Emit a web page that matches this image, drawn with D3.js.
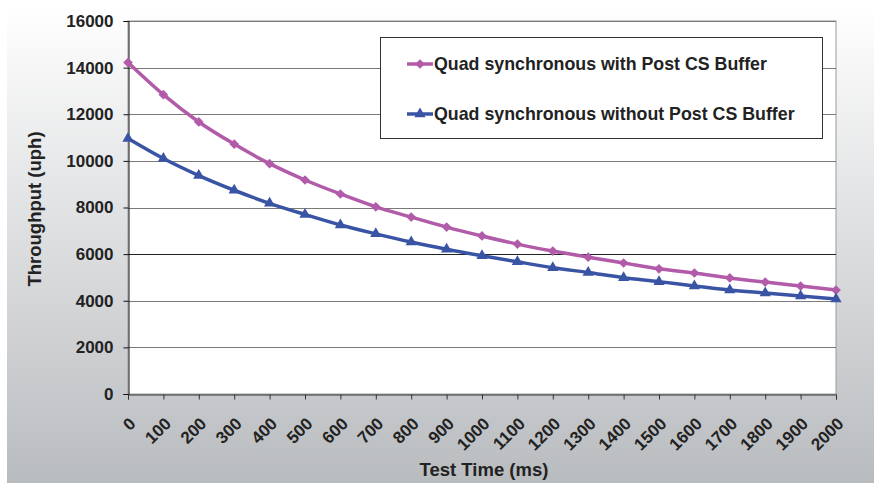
<!DOCTYPE html>
<html><head><meta charset="utf-8">
<script src="https://cdn.jsdelivr.net/npm/d3@7"></script>
<style>body{margin:0;background:#fff;}svg{display:block;font-family:"Liberation Sans",Arial,sans-serif;}</style>
</head><body>
<svg id="c" width="874" height="483"></svg>
<script>
const testTimes = [0,100,200,300,400,500,600,700,800,900,1000,1100,1200,1300,1400,1500,1600,1700,1800,1900,2000];
const withBuffer = [14220,12840,11670,10720,9880,9180,8580,8030,7590,7160,6780,6430,6130,5870,5620,5370,5190,4980,4800,4630,4460];
const withoutBuffer = [10960,10100,9370,8740,8180,7700,7250,6870,6520,6210,5930,5670,5420,5210,4990,4820,4630,4460,4330,4200,4070];
const yTicks = [0,2000,4000,6000,8000,10000,12000,14000,16000];
const seriesNames = ["Quad synchronous with Post CS Buffer","Quad synchronous without Post CS Buffer"];
const colors = ["#b25ba9","#3a54a5"];

const svg = d3.select("#c");
const defs = svg.append("defs");
const g = defs.append("linearGradient").attr("id","bg").attr("x1",0).attr("y1",0).attr("x2",0).attr("y2",1);
g.append("stop").attr("offset","0%").attr("stop-color","#ffffff");
g.append("stop").attr("offset","100%").attr("stop-color","#b9bcbf");
svg.append("rect").attr("x",7).attr("y",4).attr("width",867).attr("height",479).attr("fill","url(#bg)");

const L=128,R=836,T=21,B=394;
const x = d3.scaleLinear().domain([0,2000]).range([L,R]);
const y = d3.scaleLinear().domain([0,16000]).range([B,T]);

svg.append("rect").attr("x",L).attr("y",T).attr("width",R-L).attr("height",B-T).attr("fill","#fff").attr("stroke","#9a9a9a").attr("stroke-width",1);

// gridlines
svg.append("g").selectAll("line").data(yTicks.filter(d=>d>0)).join("line")
  .attr("x1",L).attr("x2",R).attr("y1",d=>Math.round(y(d))+0.5).attr("y2",d=>Math.round(y(d))+0.5)
  .attr("stroke",d=>d===6000?"#222":"#7a7a7a").attr("stroke-width",1);

// y axis
const ya = svg.append("g").attr("transform",`translate(${L+0.5},0)`)
  .call(d3.axisLeft(y).tickValues(yTicks).tickSize(5).tickPadding(10).tickFormat(d3.format("d")));
ya.select(".domain").attr("stroke","#111");
ya.selectAll(".tick line").attr("stroke","#111");
ya.selectAll("text").attr("font-size","17px").attr("font-weight","bold").attr("fill","#222").attr("font-family","Liberation Sans, Arial, sans-serif");

// x axis
const xa = svg.append("g").attr("transform",`translate(0,${B+0.5})`)
  .call(d3.axisBottom(x).tickValues(testTimes).tickSize(5).tickFormat(d3.format("d")));
xa.select(".domain").attr("stroke","#333");
xa.selectAll(".tick line").attr("stroke","#333");
xa.selectAll("text").attr("font-size","17px").attr("font-weight","bold").attr("fill","#222")
  .attr("font-family","Liberation Sans, Arial, sans-serif")
  .attr("text-anchor","end").attr("dy","0.35em")
  .attr("transform","translate(4,26) rotate(-45)").attr("y",0).attr("x",0);

// titles
svg.append("text").attr("x",484).attr("y",476).attr("text-anchor","middle")
  .attr("font-size","18.5px").attr("font-weight","bold").attr("fill","#222").text("Test Time (ms)");
svg.append("text").attr("transform","translate(41,209) rotate(-90)").attr("text-anchor","middle")
  .attr("font-size","18.5px").attr("font-weight","bold").attr("fill","#222").text("Throughput (uph)");

// lines
const series = [withBuffer, withoutBuffer];
const line = d3.line().x((d,i)=>x(testTimes[i])).y(d=>y(d)).curve(d3.curveMonotoneX);
series.forEach((s,k)=>{
  svg.append("path").datum(s).attr("d",line).attr("fill","none").attr("stroke",colors[k]).attr("stroke-width",3.5).attr("stroke-linejoin","round");
});
const diamond = d3.symbol().type(d3.symbolDiamond2).size(60);
const tri = d3.symbol().type(d3.symbolTriangle).size(55);
svg.append("g").selectAll("path").data(withBuffer).join("path")
  .attr("transform",(d,i)=>`translate(${x(testTimes[i])},${y(d)})`).attr("d",diamond).attr("fill",colors[0]);
svg.append("g").selectAll("path").data(withoutBuffer).join("path")
  .attr("transform",(d,i)=>`translate(${x(testTimes[i])},${y(d)})`).attr("d",tri).attr("fill",colors[1]);

// legend
svg.append("rect").attr("x",380.5).attr("y",37.5).attr("width",442).attr("height",101).attr("fill","#fff").attr("stroke","#333").attr("stroke-width",1);
const ly=[64,114];
seriesNames.forEach((n,k)=>{
  svg.append("line").attr("x1",407).attr("x2",433).attr("y1",ly[k]).attr("y2",ly[k]).attr("stroke",colors[k]).attr("stroke-width",3.5);
  svg.append("path").attr("transform",`translate(420,${ly[k]})`).attr("d",k===0?diamond:tri).attr("fill",colors[k]);
  svg.append("text").attr("x",434).attr("y",ly[k]).attr("dy","0.35em").attr("font-size","17.8px").attr("font-weight","bold").attr("fill","#222").text(n);
});
</script>
</body></html>
